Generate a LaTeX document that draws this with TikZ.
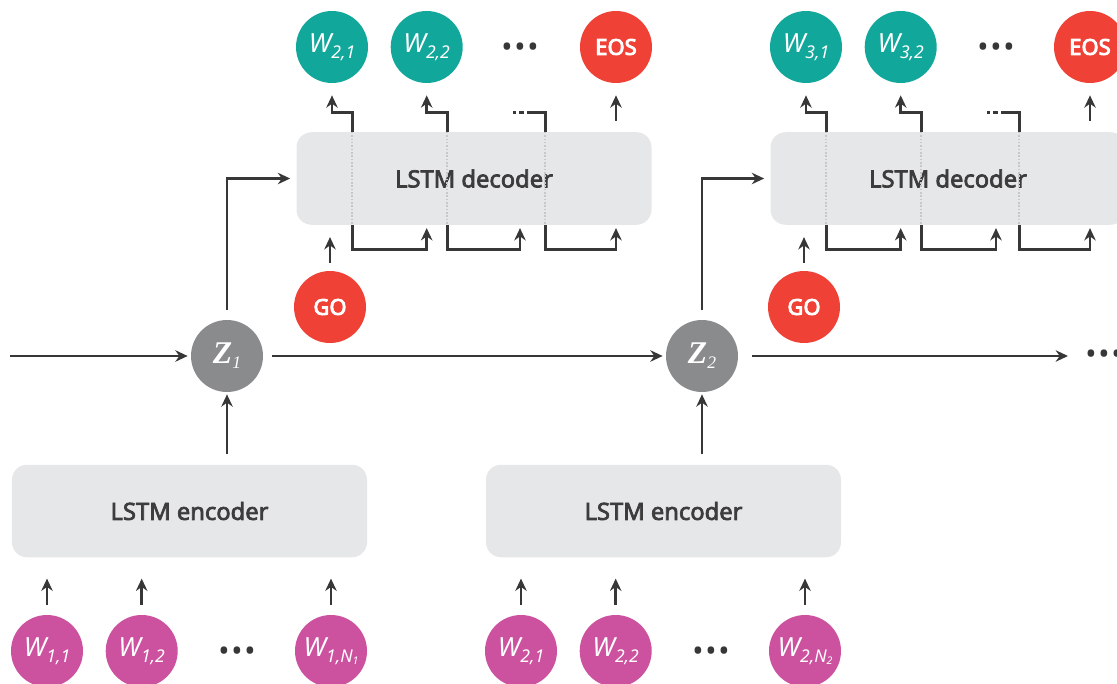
\documentclass[tikz,border=0pt]{standalone}
\usepackage{fontspec}
\setmainfont{Noto Sans}
\newfontfamily\medfont{Noto Sans}[FakeBold=3]
\newfontfamily\heavyfont{Noto Sans}[FakeBold=4]
\newfontfamily\zfont{Liberation Serif}
\usepackage{xcolor}
\usepackage{tikz}
\usetikzlibrary{arrows.meta, positioning, calc}

\definecolor{tealw}{RGB}{18,167,155}
\definecolor{pinkw}{RGB}{204,81,159}
\definecolor{redw}{RGB}{239,65,54}
\definecolor{zgray}{RGB}{138,139,141}
\definecolor{boxgray}{RGB}{230,231,232}
\definecolor{linegray}{RGB}{55,55,55}
\definecolor{textgray}{RGB}{60,60,60}

\newcommand{\wlab}[1]{{\itshape W\raisebox{-3.4pt}{\fontsize{10}{10}\selectfont #1}}}
\newcommand{\zlab}[1]{{\zfont\bfseries\itshape Z\raisebox{-3pt}{\fontsize{10}{10}\selectfont\mdseries #1}}}

\begin{document}
\begin{tikzpicture}[
    x=0.2mm, y=0.2mm,
    >={Stealth[length=7pt, width=6.5pt]},
    wire/.style   = {line width=1.6pt, draw=linegray},
    link/.style   = {wire, ->},
    block/.style  = {fill=boxgray, rounded corners=0.3cm, minimum width=7.1cm, minimum height=1.85cm, text=textgray, font=\medfont\fontsize{13.5}{16}\selectfont},
    token/.style  = {circle, minimum size=1.44cm, inner sep=0pt, text=white},
    outw/.style   = {token, fill=tealw, font=\fontsize{15}{15}\selectfont},
    inw/.style    = {token, fill=pinkw, font=\fontsize{15}{15}\selectfont},
    marker/.style = {token, fill=redw, font=\heavyfont\fontsize{12.5}{13}\selectfont},
    latent/.style = {token, fill=zgray, font=\fontsize{18}{18}\selectfont},
    ellip/.style  = {text=linegray, inner sep=0pt, font=\fontsize{17}{17}\selectfont},
    tap/.style    = {draw=black!22, line width=0.9pt, densely dotted},
    node distance = 0.44cm
]
    \useasboundingbox (0,0) rectangle (1117,683);

    % encoders and decoders
    \node[block] (enc1) at (189.5,172) {LSTM encoder};
    \node[block] (enc2) at (663.5,172) {LSTM encoder};
    \node[block] (dec1) at (474,504.5) {LSTM decoder};
    \node[block] (dec2) at (948,504.5) {LSTM decoder};

    % latent codes and start tokens
    \node[latent] (z1) at (227,327) {\zlab{1}};
    \node[latent] (z2) at (702,327) {\zlab{2}};
    \node[marker] (go1) at (330,376) {GO};
    \node[marker] (go2) at (804,376) {GO};

    % input words
    \node[inw] (i11) at (47,32) {\wlab{1,1}};
    \node[inw, right=of i11] (i12) {\wlab{1,2}};
    \node[ellip] (din1) at (237,29) {\textbullet\hspace{1pt}\textbullet\hspace{1pt}\textbullet};
    \node[inw] (i1n) at (331,32) {\wlab{1,N\raisebox{-1.5pt}{\fontsize{6}{6}\selectfont 1}}};
    \node[inw] (i21) at (521,32) {\wlab{2,1}};
    \node[inw, right=of i21] (i22) {\wlab{2,2}};
    \node[ellip] (din2) at (711,29) {\textbullet\hspace{1pt}\textbullet\hspace{1pt}\textbullet};
    \node[inw] (i2n) at (805,32) {\wlab{2,N\raisebox{-1.5pt}{\fontsize{6}{6}\selectfont 2}}};

    % output words
    \node[outw] (o21) at (332,636) {\wlab{2,1}};
    \node[outw, right=of o21] (o22) {\wlab{2,2}};
    \node[ellip] (dout1) at (520,633) {\textbullet\hspace{1pt}\textbullet\hspace{1pt}\textbullet};
    \node[marker] (eos1) at (616,636) {EOS};
    \node[outw] (o31) at (806,636) {\wlab{3,1}};
    \node[outw, right=of o31] (o32) {\wlab{3,2}};
    \node[ellip] (dout2) at (996,633) {\textbullet\hspace{1pt}\textbullet\hspace{1pt}\textbullet};
    \node[marker] (eos2) at (1090,636) {EOS};
    \node[ellip] (dz) at (1104,326) {\textbullet\hspace{1pt}\textbullet\hspace{1pt}\textbullet};

    % words into encoders
    \draw[link, shorten <=0.2cm, shorten >=0.42cm] (i11) -- (i11 |- enc1.south);
    \draw[link, shorten <=0.2cm, shorten >=0.42cm] (i12) -- (i12 |- enc1.south);
    \draw[link, shorten <=0.2cm, shorten >=0.42cm] (i1n) -- (i1n |- enc1.south);
    \draw[link, shorten <=0.2cm, shorten >=0.42cm] (i21) -- (i21 |- enc2.south);
    \draw[link, shorten <=0.2cm, shorten >=0.42cm] (i22) -- (i22 |- enc2.south);
    \draw[link, shorten <=0.2cm, shorten >=0.42cm] (i2n) -- (i2n |- enc2.south);

    % encoders to latent codes
    \draw[link, shorten <=0.2cm, shorten >=0.04cm] (enc1.north -| z1) -- (z1);
    \draw[link, shorten <=0.2cm, shorten >=0.04cm] (enc2.north -| z2) -- (z2);

    % chain of latent codes
    \coordinate (zin) at (10,327);
    \coordinate (zout) at (1068,327);
    \draw[link, shorten >=0.06cm] (zin) -- (z1);
    \draw[link, shorten <=0.18cm, shorten >=0.06cm] (z1) -- (z2);
    \draw[link, shorten <=0.28cm] (z2) -- (zout);

    % latent codes and GO into decoders
    \draw[link, shorten <=0.2cm, shorten >=0.12cm] (z1) |- (dec1);
    \draw[link, shorten <=0.2cm, shorten >=0.12cm] (z2) |- (dec2);
    \draw[link, shorten <=0.16cm, shorten >=0.24cm] (go1) -- (go1 |- dec1.south);
    \draw[link, shorten <=0.16cm, shorten >=0.24cm] (go2) -- (go2 |- dec2.south);

    % decoder steps, first decoder
    \coordinate (a1) at ($(dec1.north west)+(56,0)$);
    \coordinate (a2) at ($(dec1.north west)+(151,0)$);
    \coordinate (a3) at ($(dec1.north west)+(249,0)$);
    \draw[tap] (a1) -- (a1 |- dec1.south);
    \draw[tap] (a2) -- (a2 |- dec1.south);
    \draw[tap] (a3) -- (a3 |- dec1.south);
    \draw[link, shorten >=0.24cm] (a1) -- ++(0,19) -| (o21);
    \draw[link, shorten >=0.24cm] (a2) -- ++(0,19) -| (o22);
    \draw[wire] (a3) -- ++(0,19) -- ++(-13,0) coordinate (a3d);
    \draw[wire, dash pattern=on 0.1cm off 0.06cm] (a3d) -- ++(-19,0);
    \draw[link, shorten >=0.24cm] ($(dec1.north -| eos1)+(0,11)$) -- (eos1);
    \draw[link, shorten >=0.06cm] (a1 |- dec1.south) -- ++(0,-24) -| (dec1.south -| o22);
    \draw[link, shorten >=0.06cm] (a2 |- dec1.south) -- ++(0,-24) -| (dec1.south -| dout1);
    \draw[link, shorten >=0.06cm] (a3 |- dec1.south) -- ++(0,-24) -| (dec1.south -| eos1);

    % decoder steps, second decoder
    \coordinate (b1) at ($(dec2.north west)+(56,0)$);
    \coordinate (b2) at ($(dec2.north west)+(151,0)$);
    \coordinate (b3) at ($(dec2.north west)+(249,0)$);
    \draw[tap] (b1) -- (b1 |- dec2.south);
    \draw[tap] (b2) -- (b2 |- dec2.south);
    \draw[tap] (b3) -- (b3 |- dec2.south);
    \draw[link, shorten >=0.24cm] (b1) -- ++(0,19) -| (o31);
    \draw[link, shorten >=0.24cm] (b2) -- ++(0,19) -| (o32);
    \draw[wire] (b3) -- ++(0,19) -- ++(-13,0) coordinate (b3d);
    \draw[wire, dash pattern=on 0.1cm off 0.06cm] (b3d) -- ++(-19,0);
    \draw[link, shorten >=0.24cm] ($(dec2.north -| eos2)+(0,11)$) -- (eos2);
    \draw[link, shorten >=0.06cm] (b1 |- dec2.south) -- ++(0,-24) -| (dec2.south -| o32);
    \draw[link, shorten >=0.06cm] (b2 |- dec2.south) -- ++(0,-24) -| (dec2.south -| dout2);
    \draw[link, shorten >=0.06cm] (b3 |- dec2.south) -- ++(0,-24) -| (dec2.south -| eos2);
\end{tikzpicture}
\end{document}
